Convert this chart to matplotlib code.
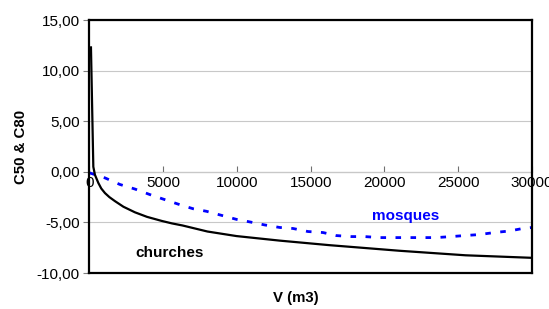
import numpy as np
from matplotlib import pyplot as plt
from matplotlib.ticker import FuncFormatter, MultipleLocator

# churches (solid black)
v_churches = [100, 260, 370, 600, 800, 1050, 1350, 1730, 2300, 3080, 3900, 4890,
              5600, 6300, 8000, 9970, 12900, 16280, 18000, 21000, 25500, 30000]
c_churches = [12.3, 0.5, -0.3, -1.1, -1.65, -2.1, -2.5, -2.9, -3.45, -4.0, -4.45, -4.85,
              -5.1, -5.3, -5.9, -6.35, -6.8, -7.25, -7.45, -7.8, -8.25, -8.5]

# mosques (blue dotted)
v_mosques = [0, 1050, 2065, 3080, 4100, 5110, 6130, 7030, 7930, 8950, 9970,
             10870, 11880, 12900, 13800, 14810, 15830, 16730, 17750, 18650,
             19670, 21000, 22500, 23510, 24520, 25420, 26440, 27450, 28460,
             29370, 30000]
c_mosques = [-0.1, -0.6, -1.25, -1.7, -2.25, -2.75, -3.25, -3.65, -3.9, -4.3, -4.7,
             -4.95, -5.25, -5.5, -5.6, -5.9, -6.0, -6.3, -6.4, -6.4,
             -6.5, -6.5, -6.5, -6.5, -6.4, -6.3, -6.2, -6.0, -5.85,
             -5.6, -5.5]

x_ticks = [0, 5000, 10000, 15000, 20000, 25000, 30000]

plt.rcParams['font.family'] = ['Liberation Sans', 'DejaVu Sans']

fig = plt.figure(figsize=(5.49, 3.09), dpi=100)
ax = fig.add_axes([0.163, 0.1165, 0.806, 0.8185])

ax.set_xlim(0, 30000)
ax.set_ylim(-10, 15)

# grid
ax.yaxis.set_major_locator(MultipleLocator(5))
ax.grid(axis='y', color='#c8c8c8', linewidth=0.8)
ax.set_axisbelow(True)

ax.plot(v_mosques, c_mosques, color='#0000ff', linewidth=2.0,
        linestyle=(0, (2.0, 3.4)))
ax.plot(v_churches, c_churches, color='black', linewidth=1.6)

ax.text(5450, -8.0, 'churches', fontsize=11, fontweight='bold',
        ha='center', va='center', color='black')
ax.text(21430, -4.35, 'mosques', fontsize=11, fontweight='bold',
        ha='center', va='center', color='#0000ff')

# frame
for sp in ax.spines.values():
    sp.set_color('black')
    sp.set_linewidth(1.6)

ax.yaxis.set_major_formatter(FuncFormatter(lambda v, p: f"{v:.2f}".replace('.', ',')))
ax.tick_params(axis='y', direction='out', length=4, color='#808080',
               labelsize=11, pad=3)
ax.tick_params(axis='x', bottom=False, labelbottom=False)

# x axis crossing at zero
sec = ax.secondary_xaxis(0.4)
sec.set_xticks(x_ticks)
sec.xaxis.set_ticks_position('bottom')
sec.spines['bottom'].set_color('#707070')
sec.spines['bottom'].set_linewidth(0.8)
sec.tick_params(axis='x', direction='in', length=4, color='#707070',
                labelsize=11, pad=3)

ax.set_ylabel('C50 & C80', fontsize=10.8, fontweight='bold', labelpad=6)
fig.text(296 / 549, 1 - 298 / 309, 'V (m3)', fontsize=10.8, fontweight='bold',
         ha='center', va='center')

fig.savefig('out.png', dpi=100)
